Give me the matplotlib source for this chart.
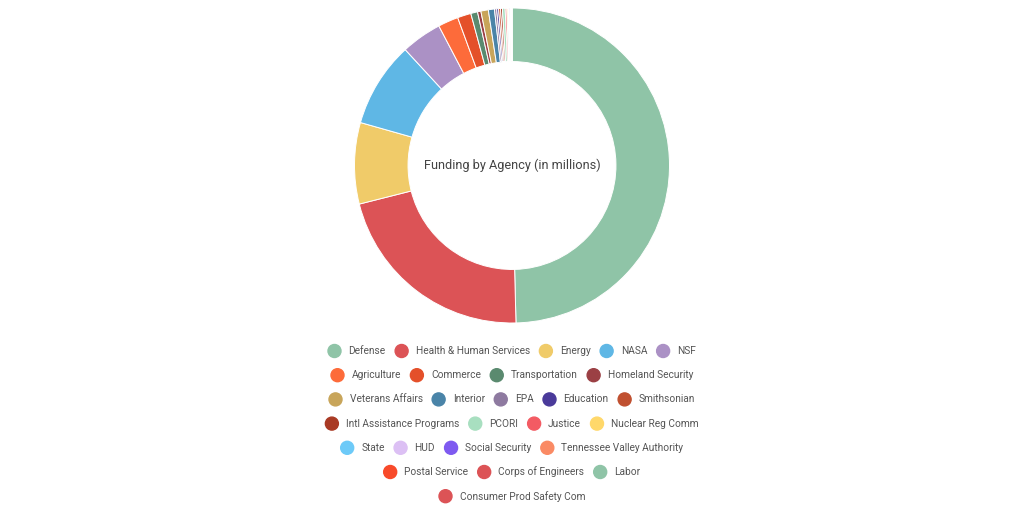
import matplotlib
matplotlib.use("Agg")
import matplotlib.pyplot as plt
from matplotlib.patches import Circle

plt.rcParams['font.family'] = ['Roboto', 'DejaVu Sans']

agencies = ["Defense", "Health & Human Services", "Energy", "NASA", "NSF",
            "Agriculture", "Commerce", "Transportation", "Homeland Security",
            "Veterans Affairs", "Interior", "EPA", "Education", "Smithsonian",
            "Intl Assistance Programs", "PCORI", "Justice", "Nuclear Reg Comm",
            "State", "HUD", "Social Security", "Tennessee Valley Authority",
            "Postal Service", "Corps of Engineers", "Labor", "Consumer Prod Safety Com"]
funding = [71400, 30900, 12000, 12600, 6000,
           3000, 2000, 1000, 500,
           1100, 900, 320, 280, 280,
           280, 400, 250, 180,
           130, 120, 100, 80,
           50, 40, 30, 20]
colors = ["#8fc4a7", "#dc5356", "#f0cb69", "#5fb7e5", "#ab91c5",
          "#fd6b3a", "#e4502a", "#5a8a6f", "#9b4044",
          "#c8a55a", "#4a84a8", "#8e7aa0", "#4a3a9a", "#c05030",
          "#a93a24", "#a8dfc0", "#f35b63", "#ffd86a",
          "#6dcaf8", "#dcc0f4", "#7e5af0", "#fa8a64",
          "#f84a2a", "#dc5356", "#8fc4a7", "#dc5356"]
legend_rows = [5, 4, 5, 4, 4, 3, 1]

W, H = 1024, 512
fig = plt.figure(figsize=(W / 100, H / 100), dpi=100)

# doughnut
cx, cy, r = 512, 165.5, 157.5
ax = fig.add_axes([(cx - r) / W, 1 - (cy + r) / H, 2 * r / W, 2 * r / H])
ax.pie(funding, colors=colors, startangle=90, counterclock=False,
       wedgeprops=dict(width=0.34, edgecolor="white", linewidth=0.7))
ax.set_xlim(-1, 1)
ax.set_ylim(-1, 1)
ax.set_aspect("equal")
ax.axis("off")
ax.text(0, 0, "Funding by Agency (in millions)", ha="center", va="center",
        fontsize=9.2, color="#444444")

# legend, drawn in pixel space
lax = fig.add_axes([0, 0, 1, 1])
lax.set_xlim(0, W)
lax.set_ylim(H, 0)
lax.axis("off")
renderer = fig.canvas.get_renderer()

marker_r = 6.5
gap = 7.5
pad = 9.5
row_y = 351
idx = 0
for n in legend_rows:
    items = []
    for k in range(idx, idx + n):
        t = lax.text(0, row_y, agencies[k], fontsize=7.3, color="#555555",
                     va="center", ha="left")
        w = t.get_window_extent(renderer).width
        items.append((k, t, w))
    total = sum(2 * marker_r + gap + w for _, _, w in items) + pad * (n - 1)
    x = cx - total / 2
    for k, t, w in items:
        lax.add_patch(Circle((x + marker_r, row_y), marker_r, color=colors[k]))
        t.set_x(x + 2 * marker_r + gap)
        x += 2 * marker_r + gap + w + pad
    idx += n
    row_y += 24.2

fig.savefig("out.png", dpi=100)
